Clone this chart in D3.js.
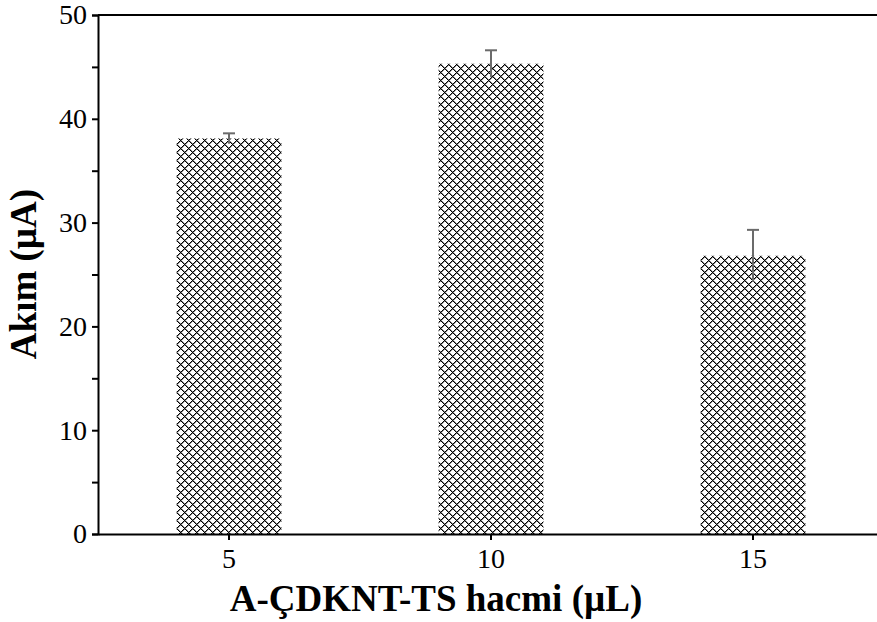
<!DOCTYPE html>
<html>
<head>
<meta charset="utf-8">
<script src="https://cdn.jsdelivr.net/npm/d3@7"></script>
<style>
  body { margin: 0; background: #fff; }
  text { font-family: "Liberation Serif", "Times New Roman", serif; }
</style>
</head>
<body>
<div id="chart"></div>
<script>
// data
var volumes = ["5", "10", "15"];
var current = [38.1, 45.3, 26.8];
var errors = [0.5, 1.3, 2.5];
var yTicks = [0, 10, 20, 30, 40, 50];
var yMinor = [5, 15, 25, 35, 45];

var W = 877, H = 622;
var margin = {top: 15, left: 98, bottom: 88};
var plotRight = 884; // axis runs past the window edge, as in the reference

var svg = d3.select("#chart").append("svg")
    .attr("width", W)
    .attr("height", H);

// dotted diamond fill
var defs = svg.append("defs");
var pat = defs.append("pattern")
    .attr("id", "dots")
    .attr("patternUnits", "userSpaceOnUse")
    .attr("width", 8).attr("height", 8);
pat.append("rect").attr("width", 8).attr("height", 8).attr("fill", "#fff");
var px = [];
for (var i = 0; i < 8; i++) {
  px.push([i, i]);
  px.push([i, (8 - i) % 8]);
}
// grey shoulders on the diagonals
var gx = [];
for (var j = 0; j < 8; j++) {
  gx.push([(j + 1) % 8, j]);
  gx.push([(9 - j) % 8, j]);
}
pat.selectAll("rect.g").data(gx).enter().append("rect")
    .attr("class", "g")
    .attr("x", function(d) { return d[0]; })
    .attr("y", function(d) { return d[1]; })
    .attr("width", 1).attr("height", 1)
    .attr("fill", "#8a8a8a");
pat.selectAll("rect.p").data(px).enter().append("rect")
    .attr("class", "p")
    .attr("x", function(d) { return d[0]; })
    .attr("y", function(d) { return d[1]; })
    .attr("width", 1).attr("height", 1)
    .attr("fill", "#000");

var x = d3.scaleBand()
    .domain(volumes)
    .range([margin.left, plotRight])
    .paddingInner(0.6)
    .paddingOuter(0.3);

var y = d3.scaleLinear()
    .domain([0, 50])
    .range([H - margin.bottom, margin.top]);

// bars
svg.selectAll(".bar")
    .data(volumes)
  .enter().append("rect")
    .attr("class", "bar")
    .attr("x", function(d) { return x(d); })
    .attr("width", x.bandwidth())
    .attr("y", function(d, i) { return y(current[i]); })
    .attr("height", function(d, i) { return y(0) - y(current[i]); })
    .attr("fill", "url(#dots)");

// error bars
var eb = svg.selectAll(".err")
    .data(volumes)
  .enter().append("g")
    .attr("class", "err")
    .attr("stroke", "#6b6b6b")
    .attr("stroke-width", 2);
eb.append("line")
    .attr("x1", function(d) { return x(d) + x.bandwidth() / 2; })
    .attr("x2", function(d) { return x(d) + x.bandwidth() / 2; })
    .attr("y1", function(d, i) { return y(current[i] + errors[i]); })
    .attr("y2", function(d, i) { return y(current[i] - errors[i]); });
eb.append("line")
    .attr("x1", function(d) { return x(d) + x.bandwidth() / 2 - 6; })
    .attr("x2", function(d) { return x(d) + x.bandwidth() / 2 + 6; })
    .attr("y1", function(d, i) { return y(current[i] + errors[i]); })
    .attr("y2", function(d, i) { return y(current[i] + errors[i]); });

// top border
svg.append("line")
    .attr("x1", margin.left).attr("x2", plotRight)
    .attr("y1", y(50)).attr("y2", y(50))
    .attr("stroke", "#000").attr("stroke-width", 2);

// y axis
svg.append("g")
    .attr("transform", "translate(" + margin.left + ",0)")
    .call(d3.axisLeft(y).tickValues(yTicks).tickSize(6).tickPadding(5));
svg.append("g")
    .attr("transform", "translate(" + margin.left + ",0)")
    .call(d3.axisLeft(y).tickValues(yMinor).tickSize(6).tickFormat(""))
    .call(function(g) { g.select(".domain").remove(); });

// x axis
svg.append("g")
    .attr("transform", "translate(0," + y(0) + ")")
    .call(d3.axisBottom(x).tickSize(6).tickPadding(8).tickSizeOuter(0));

svg.selectAll(".domain").attr("stroke", "#000").attr("stroke-width", 2);
svg.selectAll(".tick line").attr("stroke", "#000").attr("stroke-width", 2);
svg.selectAll(".tick text")
    .attr("font-family", "Liberation Serif")
    .attr("font-size", 28)
    .attr("fill", "#000");

// axis titles
svg.append("text")
    .attr("x", 436)
    .attr("y", 611)
    .attr("text-anchor", "middle")
    .attr("font-size", 37)
    .attr("font-weight", "bold")
    .text("A-ÇDKNT-TS hacmi (µL)");

svg.append("text")
    .attr("transform", "translate(36,274) rotate(-90)")
    .attr("text-anchor", "middle")
    .attr("font-size", 37)
    .attr("font-weight", "bold")
    .text("Akım (µA)");
</script>
</body>
</html>
